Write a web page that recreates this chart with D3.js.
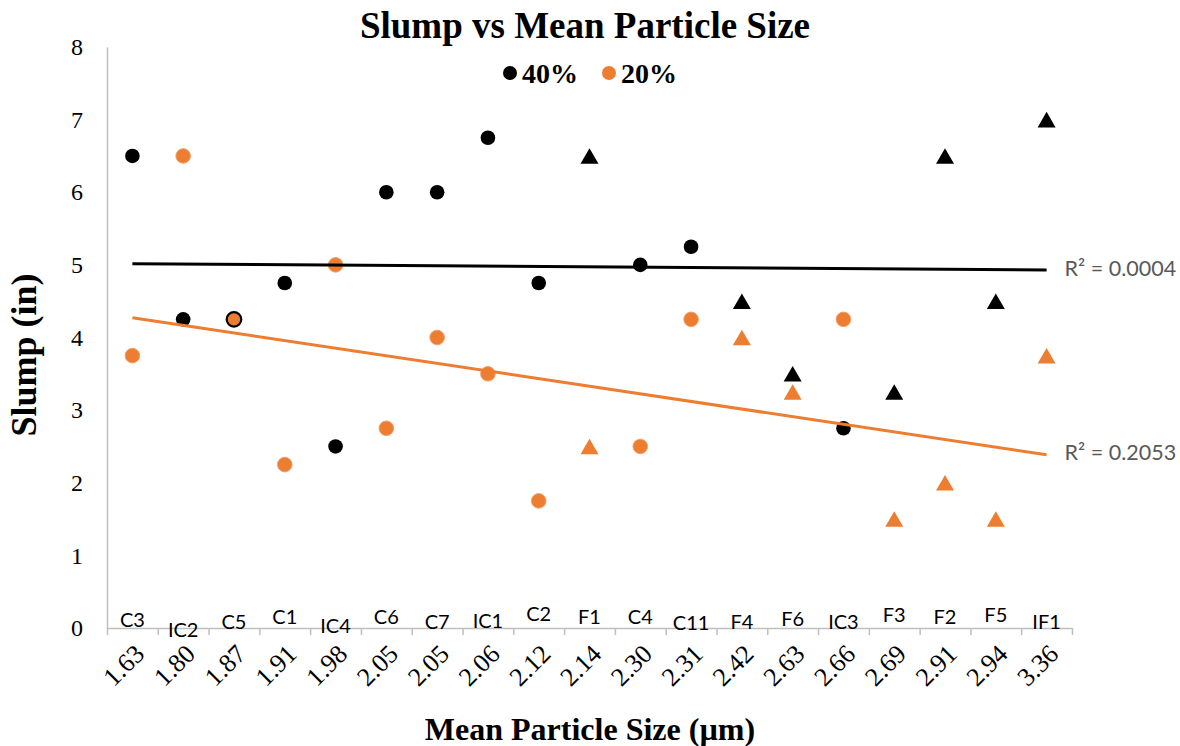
<!DOCTYPE html>
<html>
<head>
<meta charset="utf-8">
<script src="https://cdn.jsdelivr.net/npm/d3@7"></script>
<style>
  body { margin: 0; background: #fff; }
  .serif { font-family: "Liberation Serif", "Times New Roman", serif; }
  .sans { font-family: Lato, "Open Sans", sans-serif; }
</style>
</head>
<body>
<div id="chart"></div>
<script>
// Chart data
var particleSizes = ["1.63", "1.80", "1.87", "1.91", "1.98", "2.05", "2.05", "2.06", "2.12", "2.14",
    "2.30", "2.31", "2.42", "2.63", "2.66", "2.69", "2.91", "2.94", "3.36"];
var sampleNames = ["C3", "IC2", "C5", "C1", "IC4", "C6", "C7", "IC1", "C2", "F1",
    "C4", "C11", "F4", "F6", "IC3", "F3", "F2", "F5", "IF1"];
var markerShapes = ["circle", "circle", "circle", "circle", "circle", "circle", "circle", "circle", "circle", "triangle",
    "circle", "circle", "triangle", "triangle", "circle", "triangle", "triangle", "triangle", "triangle"];
var slump40 = [6.5, 4.25, 4.25, 4.75, 2.5, 6.0, 6.0, 6.75, 4.75, 6.5,
    5.0, 5.25, 4.5, 3.5, 2.75, 3.25, 6.5, 4.5, 7.0];
var slump20 = [3.75, 6.5, 4.25, 2.25, 5.0, 2.75, 4.0, 3.5, 1.75, 2.5,
    2.5, 4.25, 4.0, 3.25, 4.25, 1.5, 2.0, 1.5, 3.75];
// hidden label series (sample names sit at these small slump values)
var labelLevels = [0.11, -0.03, 0.08, 0.15, 0.03, 0.15, 0.08, 0.10, 0.19, 0.15,
    0.15, 0.065, 0.08, 0.12, 0.08, 0.175, 0.15, 0.18, 0.08];
var yTicks = [0, 1, 2, 3, 4, 5, 6, 7, 8];

var svgWidth = 1180;
var svgHeight = 746;

var margin = { top: 47, right: 108, bottom: 118, left: 107 };
var width = svgWidth - margin.left - margin.right;
var height = svgHeight - margin.top - margin.bottom;

var orange = "#ED7D31";

var svg = d3.select("#chart")
    .append("svg")
    .attr("width", svgWidth)
    .attr("height", svgHeight);

var chartGroup = svg.append("g")
    .attr("transform", `translate(${margin.left}, ${margin.top})`);

var idx = d3.range(particleSizes.length);

// Scales
var xBand = d3.scaleBand()
    .domain(idx)
    .range([0, width]);

var xEdge = d3.scaleLinear()
    .domain([0, particleSizes.length])
    .range([0, width]);

var yLinearScale = d3.scaleLinear()
    .domain([0, 8])
    .range([height, 0]);

var cx = i => xBand(i) + xBand.bandwidth() / 2;

// Y axis
var leftAxis = d3.axisLeft(yLinearScale)
    .tickValues(yTicks)
    .tickSize(0)
    .tickPadding(24);

var yAxis = chartGroup.append("g")
    .call(leftAxis);
yAxis.select(".domain").attr("stroke", "#BFBFBF").attr("stroke-width", 1.5);
yAxis.selectAll("text")
    .attr("class", "serif")
    .attr("font-size", 24)
    .attr("fill", "#000");

// X axis: tick marks between categories
var tickAxis = d3.axisBottom(xEdge)
    .tickValues(d3.range(particleSizes.length + 1))
    .tickFormat("")
    .tickSizeInner(7)
    .tickSizeOuter(0);

var xAxis = chartGroup.append("g")
    .attr("transform", `translate(0, ${height})`)
    .call(tickAxis);
xAxis.select(".domain").attr("stroke", "#BFBFBF").attr("stroke-width", 1.5);
xAxis.selectAll(".tick line").attr("stroke", "#BFBFBF").attr("stroke-width", 1.5);

// X axis labels (rotated)
var labelAxis = d3.axisBottom(xBand)
    .tickFormat(i => particleSizes[i])
    .tickSize(0);

var xLabels = chartGroup.append("g")
    .attr("transform", `translate(0, ${height})`)
    .call(labelAxis);
xLabels.select(".domain").remove();
xLabels.selectAll("text")
    .attr("class", "serif")
    .attr("font-size", 26)
    .attr("fill", "#000")
    .attr("text-anchor", "end")
    .attr("dy", "0.35em")
    .attr("transform", "translate(7, 21) rotate(-45)")
    .attr("y", 0)
    .attr("x", 0);

// Sample name labels
chartGroup.append("g")
    .selectAll("text")
    .data(idx)
    .enter()
    .append("text")
    .attr("class", "sans")
    .attr("x", d => cx(d))
    .attr("y", d => yLinearScale(labelLevels[d]))
    .attr("dy", "0.36em")
    .attr("text-anchor", "middle")
    .attr("font-size", 20)
    .attr("fill", "#000")
    .text(d => sampleNames[d]);

// Markers
var triangle = d3.symbol().type(d3.symbolTriangle).size(140);

function drawSeries(values, color, strokeFor) {
    var g = chartGroup.append("g");
    idx.forEach(function(i) {
        var x = cx(i);
        var y = yLinearScale(values[i]);
        if (markerShapes[i] === "triangle") {
            g.append("path")
                .attr("d", triangle)
                .attr("transform", `translate(${x}, ${y + 2.6})`)
                .attr("fill", color);
        } else {
            var c = g.append("circle")
                .attr("cx", x)
                .attr("cy", y)
                .attr("r", 7.3)
                .attr("fill", color);
            var s = strokeFor(i);
            if (s) c.attr("stroke", s).attr("stroke-width", s === "#000" ? 2.2 : 1);
        }
    });
}

drawSeries(slump40, "#000", () => null);
// orange markers get a black outline where they sit on a black marker
drawSeries(slump20, orange, i => slump20[i] === slump40[i] ? "#000" : "#F3A06A");

// Linear trendlines (least squares on category position)
function fitLine(values) {
    var xs = idx.map(i => i + 1);
    var mx = d3.mean(xs), my = d3.mean(values);
    var sxy = d3.sum(idx, i => (xs[i] - mx) * (values[i] - my));
    var sxx = d3.sum(idx, i => (xs[i] - mx) * (xs[i] - mx));
    var syy = d3.sum(idx, i => (values[i] - my) * (values[i] - my));
    var slope = sxy / sxx;
    return {
        at: i => my + slope * (i + 1 - mx),
        r2: (sxy * sxy) / (sxx * syy)
    };
}

var line = d3.line()
    .x(d => cx(d[0]))
    .y(d => yLinearScale(d[1]));

[[slump40, "#000"], [slump20, orange]].forEach(function(s) {
    var fit = fitLine(s[0]);
    var first = 0, last = idx.length - 1;
    chartGroup.append("path")
        .attr("d", line([[first, fit.at(first)], [last, fit.at(last)]]))
        .attr("stroke", s[1])
        .attr("stroke-width", 3)
        .attr("fill", "none");
    chartGroup.append("text")
        .attr("class", "sans")
        .attr("x", cx(last) + 18)
        .attr("y", yLinearScale(fit.at(last)) - 2)
        .attr("dy", "0.36em")
        .attr("font-size", 21.5)
        .attr("fill", "#595959")
        .text("R\u00B2 = " + fit.r2.toFixed(4));
});

// Title
svg.append("text")
    .attr("class", "serif")
    .attr("x", 585)
    .attr("y", 38)
    .attr("text-anchor", "middle")
    .attr("font-size", 37)
    .attr("font-weight", "bold")
    .text("Slump vs Mean Particle Size");

// Legend
var legend = svg.append("g").attr("transform", "translate(510, 73)");
[["40%", "#000", 0], ["20%", orange, 99]].forEach(function(l) {
    legend.append("circle")
        .attr("cx", l[2])
        .attr("cy", 0)
        .attr("r", 7)
        .attr("fill", l[1]);
    legend.append("text")
        .attr("class", "serif")
        .attr("x", l[2] + 12)
        .attr("y", 10)
        .attr("font-size", 28)
        .attr("font-weight", "bold")
        .text(l[0]);
});

// Axis titles
svg.append("text")
    .attr("class", "serif")
    .attr("x", 590)
    .attr("y", 740)
    .attr("text-anchor", "middle")
    .attr("font-size", 32)
    .attr("font-weight", "bold")
    .text("Mean Particle Size (\u00B5m)");

svg.append("text")
    .attr("class", "serif")
    .attr("transform", "translate(36, 355) rotate(-90)")
    .attr("text-anchor", "middle")
    .attr("font-size", 36)
    .attr("font-weight", "bold")
    .text("Slump (in)");
</script>
</body>
</html>
